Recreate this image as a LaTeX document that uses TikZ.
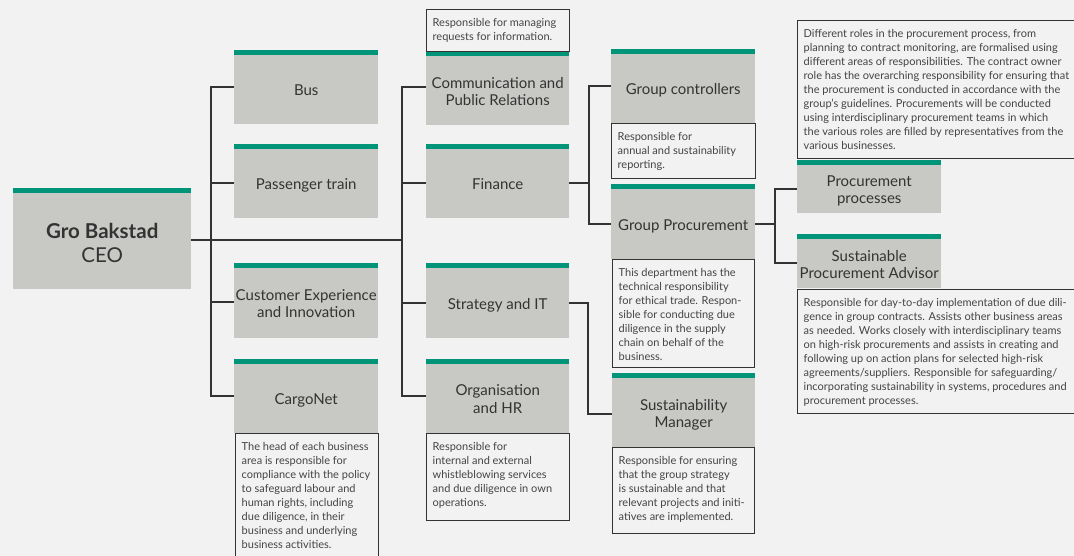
\documentclass[tikz,border=0pt]{standalone}
\usepackage{fontspec}
\setmainfont{Lato}
\definecolor{bgc}{HTML}{F2F2F2}
\definecolor{boxg}{HTML}{C8C9C5}
\definecolor{tealc}{HTML}{009479}
\definecolor{txtc}{HTML}{333333}
\definecolor{linec}{HTML}{333333}
\definecolor{desctxt}{HTML}{444444}
\newcommand{\ph}{\vphantom{Ag}}
\tikzset{
  unit/.style={anchor=north west, fill=boxg, inner sep=0pt,
    path picture={\fill[tealc] (path picture bounding box.north west) rectangle ([yshift=-5pt]path picture bounding box.north east);}},
  unittext/.style={inner sep=0pt, align=center, text=txtc, font=\fontsize{15}{17.5}\selectfont},
  ceotext/.style={inner sep=0pt, align=center, text=txtc, font=\fontsize{20.5}{24}\selectfont},
  descframe/.style={anchor=north west, draw=linec, line width=1.4pt, inner sep=0pt},
  desctext/.style={anchor=north west, inner sep=0pt, align=left, text=desctxt,
    font=\fontsize{11}{14}\selectfont},
  conn/.style={draw=linec, line width=1.3pt},
}
\newcommand{\unitbox}[6]{%
  \node[unit, minimum width=#4pt, minimum height=#5pt] (#1) at (#2,#3) {};
  \node[unittext] (#1t) at ([yshift=-4.4pt]#1.center) {#6};
}
\newcommand{\descbox}[6]{%
  \node[descframe, minimum width=#4pt, minimum height=#5pt] (#1) at (#2,#3) {};
  \node[desctext] (#1t) at ([xshift=6.5pt,yshift=-8.8pt]#1.north west) {#6};
}
\begin{document}
\begin{tikzpicture}[x=1pt,y=-1pt]
\fill[bgc] (0,0) rectangle (1074,556);
\useasboundingbox (0,0) rectangle (1074,556);
\clip (0,0) rectangle (1074,556);

% CEO
\node[unit, minimum width=178pt, minimum height=101pt] (ceo) at (13,188) {};
\node[ceotext] (ceot) at ([yshift=-6.2pt]ceo.center) {\bfseries Gro Bakstad\ph\\CEO\ph};

% first column
\unitbox{bus}{234}{50}{144}{74}{Bus\ph}
\unitbox{pt}{234}{144}{144}{74}{Passenger train\ph}
\unitbox{cei}{234}{263}{144}{75}{Customer Experience\ph\\and Innovation\ph}
\unitbox{cargo}{234}{359}{144}{74}{CargoNet\ph}

% second column
\unitbox{comm}{426}{51}{143}{74}{Communication and\ph\\Public Relations\ph}
\unitbox{fin}{426}{144}{143}{74}{Finance\ph}
\unitbox{strat}{426}{263}{143}{75}{Strategy and IT\ph}
\unitbox{org}{426}{359}{143}{74}{Organisation\ph\\and HR\ph}

% third column
\unitbox{gc}{611}{49}{144}{74}{Group controllers\ph}
\unitbox{gp}{611}{184}{144}{75}{Group Procurement\ph}
\unitbox{sm}{612}{373}{143}{74}{Sustainability\ph\\Manager\ph}

% fourth column
\unitbox{pp}{797}{160}{144}{53}{Procurement\ph\\processes\ph}
\unitbox{spa}{797}{234}{144}{54}{Sustainable\ph\\Procurement Advisor\ph}

% description boxes
\descbox{commd}{426}{9}{143}{42}{Responsible for managing\\requests for information.}
\descbox{gcd}{611}{123}{144}{55}{Responsible for\\annual and sustainability\\reporting.}
\descbox{drd}{797}{20}{285}{138}{Different roles in the procurement process, from\\planning to contract monitoring, are formalised using\\different areas of responsibilities. The contract owner\\role has the overarching responsibility for ensuring that\\the procurement is conducted in accordance with the\\group’s guidelines. Procurements will be conducted\\using interdisciplinary procurement teams in which\\the various roles are filled by representatives from the\\various businesses.}
\descbox{gpd}{612}{259}{142}{108}{This department has the\\technical responsibility\\for ethical trade. Respon-\\sible for conducting due\\diligence in the supply\\chain on behalf of the\\business.}
\descbox{spad}{797}{289}{285}{124}{Responsible for day-to-day implementation of due dili-\\gence in group contracts. Assists other business areas\\as needed. Works closely with interdisciplinary teams\\on high-risk procurements and assists in creating and\\following up on action plans for selected high-risk\\agreements/suppliers. Responsible for safeguarding/\\incorporating sustainability in systems, procedures and\\procurement processes.}
\descbox{smd}{612}{447}{142}{86}{Responsible for ensuring\\that the group strategy\\is sustainable and that\\relevant projects and initi-\\atives are implemented.}
\descbox{cargod}{235}{433}{143}{130}{The head of each business\\area is responsible for\\compliance with the policy\\to safeguard labour and\\human rights, including\\due diligence, in their\\business and underlying\\business activities.}
\descbox{orgd}{426}{433}{143}{87}{Responsible for\\internal and external\\whistleblowing services\\and due diligence in own\\operations.}

% connectors
\coordinate (v1) at (211,240);
\coordinate (v2) at (402,240);
\draw[conn] (ceo.east |- v1) -- (v2);
\draw[conn] (bus.west |- 0,87) -| (v1) |- (cargo.west |- 0,396);
\draw[conn] (v1 |- 0,183) -- (pt.west |- 0,183);
\draw[conn] (v1 |- 0,302) -- (cei.west |- 0,302);
\draw[conn] (comm.west |- 0,87) -| (v2) |- (org.west |- 0,396);
\draw[conn] (v2 |- 0,183) -- (fin.west |- 0,183);
\draw[conn] (v2 |- 0,303) -- (strat.west |- 0,303);

\coordinate (v3) at (589,183);
\draw[conn] (fin.east |- v3) -- (v3);
\draw[conn] (gc.west |- 0,86) -| (v3) |- (gp.west |- 0,224);

\coordinate (v4) at (588,303);
\draw[conn] (strat.east |- v4) -- (v4) |- (sm.west |- 0,414);

\coordinate (v5) at (775,224);
\draw[conn] (gp.east |- v5) -- (v5);
\draw[conn] (pp.west |- 0,189) -| (v5) |- (spa.west |- 0,263);
\end{tikzpicture}
\end{document}
